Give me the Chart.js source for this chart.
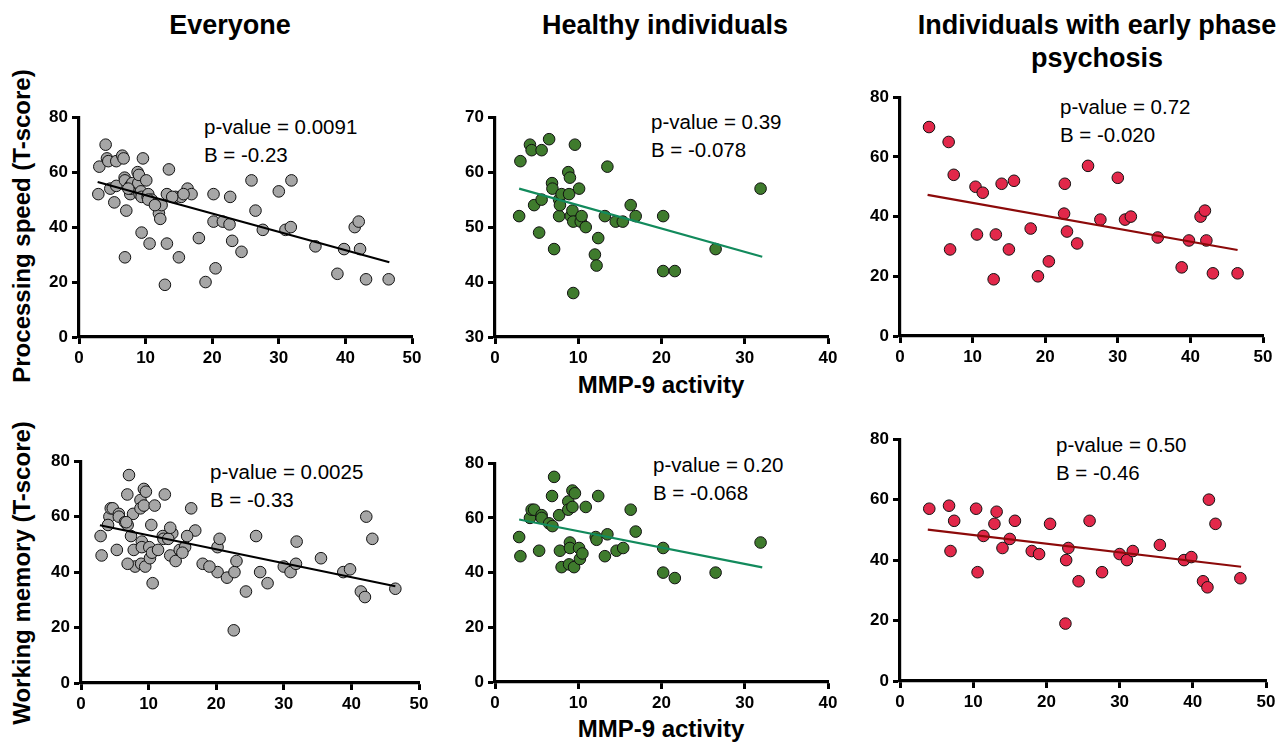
<!DOCTYPE html>
<html>
<head>
<meta charset="utf-8">
<script src="https://cdn.jsdelivr.net/npm/chart.js@4.4.0/dist/chart.umd.min.js"></script>
<style>
  html, body { margin: 0; padding: 0; background: #fff; }
  body { width: 1285px; height: 743px; position: relative; overflow: hidden;
         font-family: "Liberation Sans", Arial, sans-serif; color: #000; }
  .title { position: absolute; font-weight: bold; font-size: 27px; transform: translate(-50%, -50%); white-space: nowrap; }
  .ytitle { position: absolute; font-weight: bold; font-size: 24px; white-space: nowrap;
            transform: translate(-50%, -50%) rotate(-90deg); }
  .xtitle { position: absolute; font-weight: bold; font-size: 24px; transform: translate(-50%, -50%); white-space: nowrap; }
  .note { position: absolute; font-size: 20.5px; transform: translateY(-50%); white-space: nowrap; }
  canvas { position: absolute; }
</style>
</head>
<body>
<div class="title" style="left:230px;top:25px">Everyone</div>
<div class="title" style="left:665px;top:25px">Healthy individuals</div>
<div class="title" style="left:1097px;top:25px">Individuals with early phase</div>
<div class="title" style="left:1097px;top:58px">psychosis</div>
<div class="ytitle" style="left:22px;top:226px">Processing speed (T-score)</div>
<div class="ytitle" style="left:22px;top:573px">Working memory (T-score)</div>
<div class="xtitle" style="left:661px;top:385px">MMP-9 activity</div>
<div class="xtitle" style="left:661px;top:729px">MMP-9 activity</div>
<div id="notes"></div>

<canvas id="c1"></canvas>
<canvas id="c2"></canvas>
<canvas id="c3"></canvas>
<canvas id="c4"></canvas>
<canvas id="c5"></canvas>
<canvas id="c6"></canvas>

<script>
// Healthy individuals - processing speed
const healthyPsX = [2.9, 3.05, 4.2, 4.4, 4.7, 5.3, 5.6, 5.6, 6.5, 6.85, 6.9, 7.1, 7.7, 7.7, 7.8, 8.0, 8.8, 8.9, 9.0, 9.1,
                    9.3, 9.4, 9.4, 9.6, 10.1, 10.3, 10.4, 10.9, 12.0, 12.2, 12.4, 13.2, 13.5, 14.5, 15.35, 16.3, 16.9, 20.2, 20.2, 21.6,
                    26.5, 31.9];
const healthyPsY = [52, 62, 65, 64, 54, 49, 64, 55, 66, 58, 57, 46, 55, 52, 54, 56, 60, 56, 59, 52,
                    53, 51, 38, 65, 57, 51, 52, 50, 45, 43, 48, 52, 61, 51, 51, 54, 52, 52, 42, 42,
                    46, 57];

// Healthy individuals - working memory
const healthyWmX = [2.9, 3.05, 4.2, 4.4, 4.7, 5.3, 5.6, 5.6, 6.5, 6.85, 6.9, 7.1, 7.7, 7.8, 8.0, 8.8, 8.8, 8.9, 9.0, 9.0,
                    9.3, 9.3, 9.5, 9.6, 10.1, 10.2, 10.5, 10.9, 12.1, 12.2, 12.4, 13.2, 13.5, 14.6, 15.4, 16.3, 16.9, 20.2, 20.2, 21.6,
                    26.5, 31.9];
const healthyWmY = [53, 46, 60, 63, 63, 48, 61, 60, 58, 68, 57, 75, 61, 48, 42, 66, 63, 43, 51, 49,
                    70, 64, 42, 69, 49, 45, 47, 64, 53, 52, 68, 46, 54, 48, 49, 63, 55, 49, 40, 38,
                    40, 51];

// Early phase psychosis (same MMP-9 values for both outcomes)
const psychosisX = [4.0, 6.7, 6.9, 7.4, 10.4, 10.6, 11.4, 12.9, 13.2, 14.0, 15.0, 15.7, 18.0, 19.0, 20.5, 22.6,
                    22.7, 23.0, 24.4, 25.9, 27.6, 30.0, 31.0, 31.8, 35.5, 38.8, 39.8, 41.4, 42.0, 42.2, 43.1, 46.5];
const psychosisPsY = [70, 65, 29, 54, 50, 34, 48, 19, 34, 51, 29, 52, 36, 20, 25, 41,
                      51, 35, 31, 57, 39, 53, 39, 40, 33, 23, 32, 40, 42, 32, 21, 21];
const psychosisWmY = [57, 58, 43, 53, 57, 36, 48, 52, 56, 44, 47, 53, 43, 42, 52, 19,
                      40, 44, 33, 53, 36, 42, 40, 43, 45, 40, 41, 33, 31, 60, 52, 34];

// Fitted lines, start and end
const fitEveryonePsX = [2.8, 46.6],  fitEveryonePsY = [56.4, 27.2];
const fitHealthyPsX = [2.9, 32.1],   fitHealthyPsY = [57.0, 44.6];
const fitPsychosisPsX = [3.8, 46.5], fitPsychosisPsY = [47.3, 28.8];
const fitEveryoneWmX = [2.8, 46.5],  fitEveryoneWmY = [56.9, 34.9];
const fitHealthyWmX = [2.9, 32.1],   fitHealthyWmY = [59.4, 41.9];
const fitPsychosisWmX = [3.8, 46.6], fitPsychosisWmY = [50.1, 37.8];

const pValues = ['0.0091', '0.39', '0.72', '0.0025', '0.20', '0.50'];
const bValues = ['-0.23', '-0.078', '-0.020', '-0.33', '-0.068', '-0.46'];

const toPoints = (xs, ys) => xs.map((x, i) => ({ x: x, y: ys[i] }));

const GREY = '#a6a6a6', GREEN = '#3f7b2d', RED = '#e2284a';

// plot area in page pixels: left, right, top, bottom
const panels = [
  { id: 'c1', box: [79, 412, 115, 337], xMax: 50, yMin: 0, yMax: 80, yStep: 20,
    pts: toPoints(healthyPsX.concat(psychosisX), healthyPsY.concat(psychosisPsY)), fill: GREY,
    fit: toPoints(fitEveryonePsX, fitEveryonePsY), fitColor: '#000', note: [204, 127] },
  { id: 'c2', box: [495, 828, 115, 337], xMax: 40, yMin: 30, yMax: 70, yStep: 10,
    pts: toPoints(healthyPsX, healthyPsY), fill: GREEN,
    fit: toPoints(fitHealthyPsX, fitHealthyPsY), fitColor: '#128a5c', note: [651, 122] },
  { id: 'c3', box: [900, 1263, 95, 336], xMax: 50, yMin: 0, yMax: 80, yStep: 20,
    pts: toPoints(psychosisX, psychosisPsY), fill: RED,
    fit: toPoints(fitPsychosisPsX, fitPsychosisPsY), fitColor: '#8c0a0a', note: [1060, 107] },
  { id: 'c4', box: [81, 419, 459, 683], xMax: 50, yMin: 0, yMax: 80, yStep: 20,
    pts: toPoints(healthyWmX.concat(psychosisX), healthyWmY.concat(psychosisWmY)), fill: GREY,
    fit: toPoints(fitEveryoneWmX, fitEveryoneWmY), fitColor: '#000', note: [210, 472] },
  { id: 'c5', box: [495, 828, 461, 682], xMax: 40, yMin: 0, yMax: 80, yStep: 20,
    pts: toPoints(healthyWmX, healthyWmY), fill: GREEN,
    fit: toPoints(fitHealthyWmX, fitHealthyWmY), fitColor: '#128a5c', note: [653, 465] },
  { id: 'c6', box: [900, 1266, 437, 681], xMax: 50, yMin: 0, yMax: 80, yStep: 20,
    pts: toPoints(psychosisX, psychosisWmY), fill: RED,
    fit: toPoints(fitPsychosisWmX, fitPsychosisWmY), fitColor: '#8c0a0a', note: [1056, 445] }
];

Chart.defaults.font.family = '"Liberation Sans", Arial, sans-serif';
Chart.defaults.font.weight = 'bold';
Chart.defaults.font.size = 17;
Chart.defaults.color = '#000';

const Y_AXIS_W = 46, X_AXIS_H = 40, PAD_TOP = 12, PAD_RIGHT = 18;
const tickFont = { family: '"Liberation Sans", Arial, sans-serif', size: 17, weight: 'bold', lineHeight: 1.2 };

const notesDiv = document.getElementById('notes');

panels.forEach((p, i) => {
  const [L, R, T, B] = p.box;
  const canvas = document.getElementById(p.id);
  const w = (R - L) + Y_AXIS_W + PAD_RIGHT;
  const h = (B - T) + PAD_TOP + X_AXIS_H;
  canvas.style.left = (L - Y_AXIS_W) + 'px';
  canvas.style.top = (T - PAD_TOP) + 'px';
  canvas.style.width = w + 'px';
  canvas.style.height = h + 'px';
  canvas.width = w;
  canvas.height = h;

  new Chart(canvas.getContext('2d'), {
    type: 'scatter',
    data: {
      datasets: [
        {
          type: 'line',
          data: p.fit,
          borderColor: p.fitColor,
          borderWidth: 2.2,
          pointRadius: 0,
          fill: false,
          order: 0
        },
        {
          data: p.pts,
          pointRadius: 5.8,
          pointBackgroundColor: p.fill,
          pointBorderColor: '#111',
          pointBorderWidth: 1,
          order: 1
        }
      ]
    },
    options: {
      responsive: false,
      animation: false,
      devicePixelRatio: 1,
      clip: false,
      layout: { padding: { top: PAD_TOP, right: PAD_RIGHT, left: 0, bottom: 0 } },
      plugins: { legend: { display: false }, tooltip: { enabled: false } },
      scales: {
        x: {
          type: 'linear', min: 0, max: p.xMax,
          afterFit: s => { s.height = X_AXIS_H; },
          ticks: { stepSize: 10, color: '#000', font: tickFont, padding: 4, maxRotation: 0 },
          grid: { drawOnChartArea: false, drawTicks: true, tickLength: 7, tickWidth: 3, tickColor: '#000' },
          border: { display: true, width: 3.2, color: '#000' }
        },
        y: {
          type: 'linear', min: p.yMin, max: p.yMax,
          afterFit: s => { s.width = Y_AXIS_W; },
          ticks: { stepSize: p.yStep, color: '#000', font: tickFont, padding: 4 },
          grid: { drawOnChartArea: false, drawTicks: true, tickLength: 7, tickWidth: 3, tickColor: '#000' },
          border: { display: true, width: 3.2, color: '#000' }
        }
      }
    }
  });

  const n1 = document.createElement('div');
  n1.className = 'note';
  n1.style.left = p.note[0] + 'px';
  n1.style.top = p.note[1] + 'px';
  n1.textContent = 'p-value = ' + pValues[i];
  notesDiv.appendChild(n1);
  const n2 = document.createElement('div');
  n2.className = 'note';
  n2.style.left = p.note[0] + 'px';
  n2.style.top = (p.note[1] + 28) + 'px';
  n2.textContent = 'B = ' + bValues[i];
  notesDiv.appendChild(n2);
});
</script>
</body>
</html>
